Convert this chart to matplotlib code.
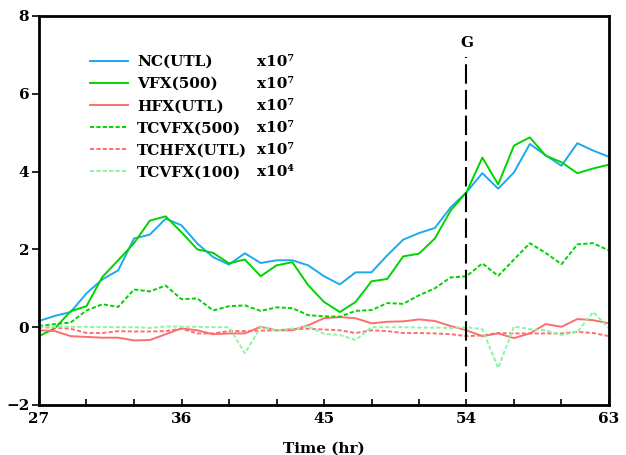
import matplotlib
matplotlib.use("Agg")
import matplotlib.pyplot as plt
from matplotlib.lines import Line2D
from matplotlib.ticker import MultipleLocator

plt.rcParams['font.family'] = ['DejaVu Serif']
plt.rcParams['lines.scale_dashes'] = False

hours = list(range(27, 64))

nc_utl = [0.16, 0.29, 0.39, 0.87, 1.23, 1.46, 2.28, 2.38, 2.79, 2.62, 2.15, 1.80, 1.61,
          1.90, 1.65, 1.72, 1.72, 1.59, 1.31, 1.10, 1.41, 1.41, 1.85, 2.25, 2.42, 2.55,
          3.08, 3.47, 3.96, 3.56, 3.98, 4.71, 4.42, 4.15, 4.73, 4.54, 4.38]
vfx_500 = [-0.23, -0.03, 0.41, 0.54, 1.29, 1.72, 2.16, 2.74, 2.85, 2.44, 2.00, 1.91, 1.64,
           1.74, 1.31, 1.59, 1.67, 1.08, 0.65, 0.39, 0.65, 1.18, 1.24, 1.82, 1.89, 2.28,
           3.00, 3.47, 4.36, 3.67, 4.67, 4.88, 4.41, 4.24, 3.96, 4.08, 4.18]
hfx_utl = [-0.08, -0.10, -0.23, -0.25, -0.27, -0.27, -0.34, -0.33, -0.18, -0.03, -0.08,
           -0.18, -0.16, -0.16, 0.01, -0.08, -0.08, 0.05, 0.23, 0.26, 0.23, 0.10, 0.14,
           0.15, 0.20, 0.16, 0.03, -0.08, -0.23, -0.16, -0.28, -0.16, 0.08, 0.01, 0.21,
           0.18, 0.10]
tcvfx_500 = [0.03, 0.08, 0.12, 0.43, 0.59, 0.52, 0.97, 0.92, 1.07, 0.72, 0.74, 0.43, 0.54,
             0.56, 0.42, 0.51, 0.49, 0.31, 0.28, 0.27, 0.42, 0.44, 0.62, 0.60, 0.82, 1.00,
             1.28, 1.31, 1.64, 1.32, 1.74, 2.16, 1.91, 1.62, 2.13, 2.16, 1.97]
tchfx_utl = [0.00, -0.01, -0.04, -0.15, -0.15, -0.10, -0.11, -0.11, -0.10, -0.04, -0.16,
             -0.16, -0.10, -0.10, -0.09, -0.08, -0.05, -0.04, -0.06, -0.08, -0.15, -0.08,
             -0.10, -0.15, -0.15, -0.16, -0.18, -0.23, -0.21, -0.15, -0.16, -0.16, -0.16,
             -0.16, -0.12, -0.15, -0.23]
tcvfx_100 = [0.01, 0.01, 0.01, 0.01, 0.00, 0.00, 0.00, -0.02, 0.02, 0.01, 0.01, 0.00, 0.00,
             -0.67, 0.00, -0.08, -0.04, 0.02, -0.17, -0.20, -0.33, 0.00, 0.00, 0.00, -0.01,
             -0.01, -0.02, 0.00, -0.05, -1.05, 0.02, -0.05, -0.08, -0.20, -0.12, 0.39, -0.03]

labels = ["NC(UTL)", "VFX(500)", "HFX(UTL)", "TCVFX(500)", "TCHFX(UTL)", "TCVFX(100)"]
scales = ["x10⁷", "x10⁷", "x10⁷", "x10⁷", "x10⁷", "x10⁴"]
x_ticks = [27, 36, 45, 54, 63]
y_ticks = [-2, 0, 2, 4, 6, 8]
g_time = 54
g_label = "G"

blue = "#1ea8f0"
green = "#00d400"
red = "#ff6e6e"
lgreen = "#8cf5a0"

fig = plt.figure(figsize=(6.26, 4.55), dpi=100)
ax = fig.add_axes([39/626, 1-405/455, 570/626, 389/455])

short = (0, (3.0, 1.6))
lw = 1.4
series = [
    (nc_utl, blue, '-'),
    (vfx_500, green, '-'),
    (hfx_utl, red, '-'),
    (tcvfx_500, green, short),
    (tchfx_utl, red, short),
    (tcvfx_100, lgreen, short),
]
handles = []
for (vals, col, ls), lab in zip(series, labels):
    h, = ax.plot(hours, vals, color=col, lw=lw, linestyle=ls, label=lab)
    handles.append(h)

ax.plot([g_time, g_time], [-1.67, 6.94], color='black', lw=1.5, linestyle=(0, (14, 4.5)))
ax.text(g_time, 7.3, g_label, ha='center', va='center', fontsize=11, fontweight='bold')

ax.set_xlim(27, 63)
ax.set_ylim(-2, 8)
ax.set_xticks(x_ticks)
ax.set_yticks(y_ticks)
ax.xaxis.set_minor_locator(MultipleLocator(3))
ax.tick_params(axis='x', which='both', direction='in', length=4, width=1.2, labelsize=11, pad=5)
ax.tick_params(axis='y', which='both', direction='out', length=5, width=1.2, labelsize=11, pad=2)
ax.tick_params(which='minor', length=4)
for t in ax.get_xticklabels() + ax.get_yticklabels():
    t.set_fontweight('bold')
for s in ax.spines.values():
    s.set_linewidth(2.0)
ax.set_xlabel("Time (hr)", fontsize=11, fontweight='bold', labelpad=11)

top_anchor = (405 - 55) / 389
leg1 = ax.legend(handles=handles, labels=labels, loc='upper left',
                 bbox_to_anchor=((90-39)/570, top_anchor), frameon=False,
                 borderpad=0, borderaxespad=0, handlelength=2.5, handletextpad=0.6,
                 labelspacing=0.53, prop={'size': 11, 'weight': 'bold'})
ax.add_artist(leg1)
dummies = [Line2D([], [], color='none') for _ in scales]
leg2 = ax.legend(handles=dummies, labels=scales, loc='upper left',
                 bbox_to_anchor=((257-39)/570, top_anchor), frameon=False,
                 borderpad=0, borderaxespad=0, handlelength=0, handletextpad=0,
                 labelspacing=0.53, prop={'size': 11, 'weight': 'bold'})

fig.savefig("out.png", dpi=100)
